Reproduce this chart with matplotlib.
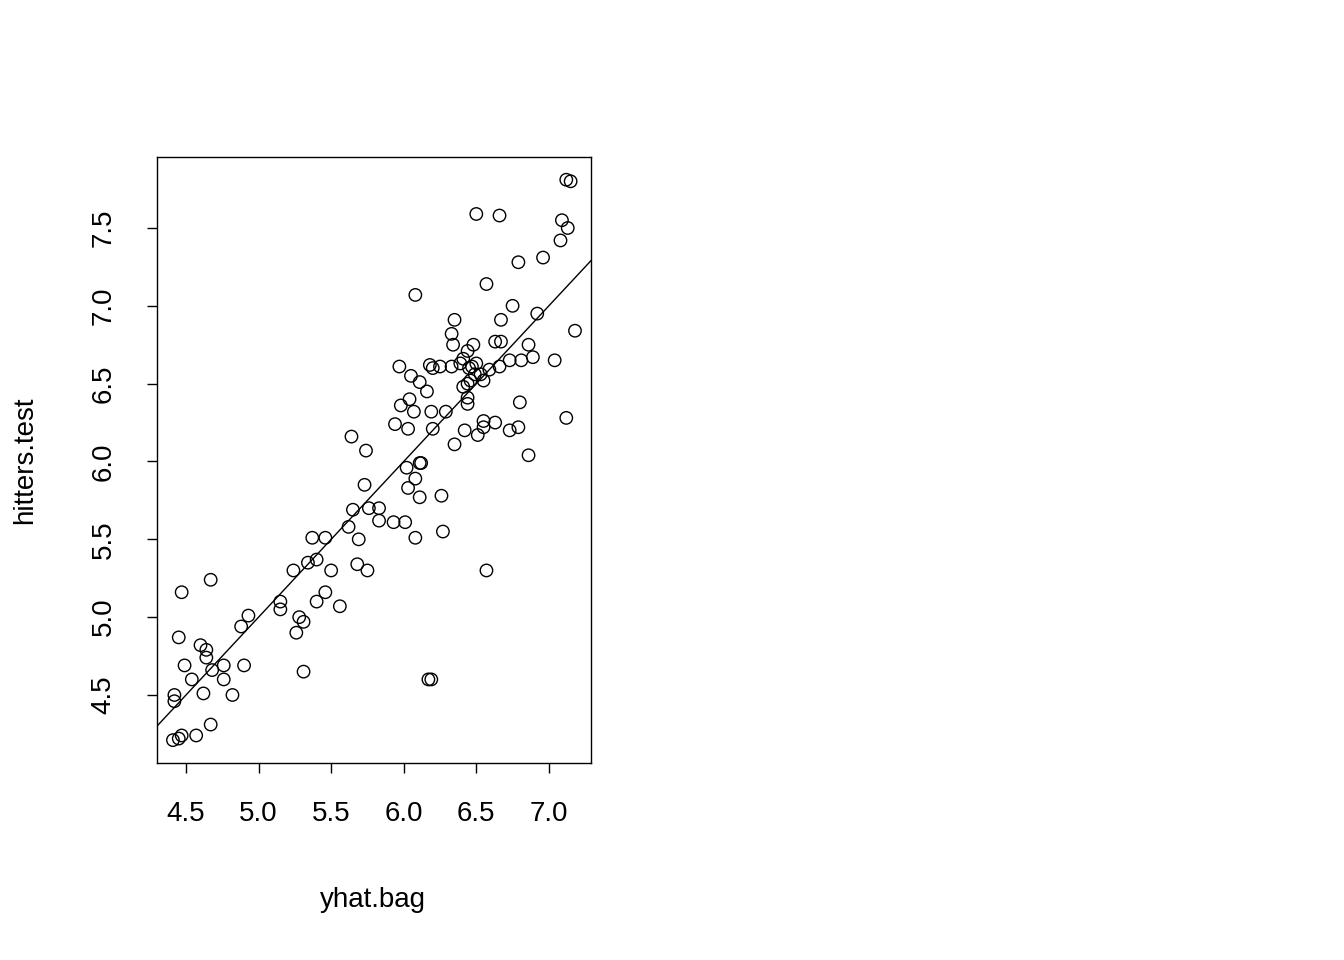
import matplotlib
matplotlib.use("Agg")
import matplotlib.pyplot as plt
import numpy as np

plt.rcParams['font.family'] = ['Liberation Sans', 'DejaVu Sans']

# predicted (bagging) vs observed log salary
yhat_bag = [4.41, 4.45, 4.47, 4.57, 4.67, 4.42, 4.42, 4.82, 4.62, 4.54, 4.76, 4.49,
            4.68, 4.76, 4.90, 4.64, 4.64, 4.60, 4.45, 4.88, 4.93, 4.47, 4.67, 5.31,
            5.26, 5.28, 5.31, 5.15, 5.15, 5.40, 5.46, 5.56, 5.50, 5.24, 5.34, 5.40,
            5.37, 5.46, 5.68, 5.75, 5.69, 5.62, 5.65, 5.76, 5.83, 5.83, 5.93, 6.01,
            5.73, 6.08, 6.27, 6.26, 6.11, 6.03, 6.08, 6.02, 6.11, 6.12, 5.64, 5.74,
            5.94, 6.03, 5.98, 6.04, 6.07, 6.19, 6.20, 6.29, 6.35, 6.42, 6.51, 6.55,
            6.55, 6.63, 6.73, 6.79, 6.80, 6.86, 6.57, 6.17, 6.19, 7.12, 7.18, 7.04,
            6.89, 6.86, 6.81, 6.73, 6.66, 6.63, 6.67, 6.67, 6.75, 6.92, 6.96, 6.79,
            6.57, 7.08, 7.09, 7.13, 7.12, 7.15, 6.50, 6.66, 6.08, 6.35, 6.33, 6.34,
            6.25, 6.33, 6.39, 6.41, 6.44, 6.48, 6.47, 6.50, 6.45, 6.49, 6.53, 6.55,
            6.59, 6.46, 6.41, 6.44, 6.44, 6.44, 5.97, 6.05, 6.11, 6.16, 6.18, 6.20]
hitters_test = [4.21, 4.22, 4.24, 4.24, 4.31, 4.50, 4.46, 4.50, 4.51, 4.60, 4.60, 4.69,
                4.66, 4.69, 4.69, 4.74, 4.79, 4.82, 4.87, 4.94, 5.01, 5.16, 5.24, 4.65,
                4.90, 5.00, 4.97, 5.05, 5.10, 5.10, 5.16, 5.07, 5.30, 5.30, 5.35, 5.37,
                5.51, 5.51, 5.34, 5.30, 5.50, 5.58, 5.69, 5.70, 5.70, 5.62, 5.61, 5.61,
                5.85, 5.51, 5.55, 5.78, 5.77, 5.83, 5.89, 5.96, 5.99, 5.99, 6.16, 6.07,
                6.24, 6.21, 6.36, 6.40, 6.32, 6.32, 6.21, 6.32, 6.11, 6.20, 6.17, 6.22,
                6.26, 6.25, 6.20, 6.22, 6.38, 6.04, 5.30, 4.60, 4.60, 6.28, 6.84, 6.65,
                6.67, 6.75, 6.65, 6.65, 6.61, 6.77, 6.77, 6.91, 7.00, 6.95, 7.31, 7.28,
                7.14, 7.42, 7.55, 7.50, 7.81, 7.80, 7.59, 7.58, 7.07, 6.91, 6.82, 6.75,
                6.61, 6.61, 6.63, 6.66, 6.71, 6.75, 6.61, 6.63, 6.60, 6.56, 6.56, 6.52,
                6.59, 6.52, 6.48, 6.50, 6.41, 6.37, 6.61, 6.55, 6.51, 6.45, 6.62, 6.60]

x_ticks = [4.5, 5.0, 5.5, 6.0, 6.5, 7.0]
y_ticks = [4.5, 5.0, 5.5, 6.0, 6.5, 7.0, 7.5]

fig = plt.figure(figsize=(13.44, 9.6), dpi=100)
ax = fig.add_axes([0.1168, 0.2052, 0.3229, 0.63125])

ax.scatter(yhat_bag, hitters_test, s=80, facecolors='none', edgecolors='black', linewidths=1.0)
ax.axline((0, 0), slope=1, color='black', linewidth=1.0)

ax.set_xlim(4.30, 7.29)
ax.set_ylim(4.063, 7.956)
ax.set_xticks(x_ticks)
ax.set_yticks(y_ticks)
ax.set_xticklabels([f"{v:.1f}" for v in x_ticks])
ax.set_yticklabels([f"{v:.1f}" for v in y_ticks], rotation=90, va='center')
ax.tick_params(direction='out', length=7, width=1, labelsize=20)
ax.tick_params(axis='x', pad=20)
ax.tick_params(axis='y', pad=22)
for s in ax.spines.values():
    s.set_linewidth(1.0)

fig.text(0.2775, 1 - 900 / 960, "yhat.bag", ha='center', va='center', fontsize=20)
fig.text(25 / 1344, 1 - 460 / 960, "hitters.test", ha='center', va='center', fontsize=20, rotation=90)

fig.savefig("out.png", dpi=100)
